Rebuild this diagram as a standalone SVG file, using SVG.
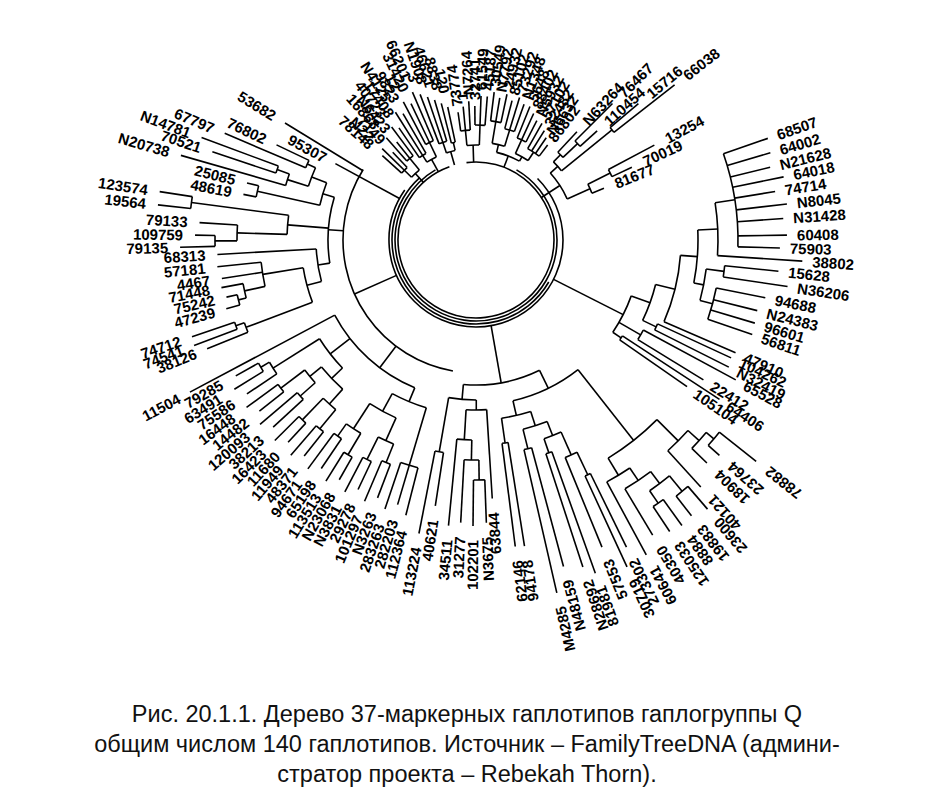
<svg xmlns="http://www.w3.org/2000/svg" width="934" height="804" viewBox="0 0 934 804">
<style>
line,circle{stroke:#000;stroke-width:1.6;fill:none}
text{font-family:"Liberation Sans",Arial,sans-serif;font-size:15px;font-weight:bold;fill:#000;dominant-baseline:central}
.r{text-anchor:start}.l{text-anchor:end}
.cap{font-size:23.5px;font-weight:normal;text-anchor:middle;dominant-baseline:auto;fill:#111}
</style>
<rect width="934" height="804" fill="#fff"/>
<g transform="translate(476,240)">
<g id="connectors">
<circle r="78" pathLength="360" stroke-dasharray="347 360" transform="rotate(-97)"/>
<circle r="81" pathLength="360" stroke-dasharray="300 360" transform="rotate(-60)"/>
<circle r="84" pathLength="360" stroke-dasharray="198 360" transform="rotate(30)"/>
<circle r="87" pathLength="360" stroke-dasharray="260 360" transform="rotate(-45)"/>
<line x1="262" x2="309" transform="rotate(-19.2)"/><line x1="262" x2="307" transform="rotate(-16.5)"/><line x1="262" x2="303" transform="rotate(-13.9)"/><line x1="262" x2="314" transform="rotate(-11.6)"/><line x1="262" x2="303" transform="rotate(-9.2)"/><line x1="262" x2="313" transform="rotate(-6.6)"/><line x1="262" x2="308" transform="rotate(-4)"/><line x1="262" x2="311" transform="rotate(-0.9)"/><line x1="262" x2="304" transform="rotate(1.5)"/>
<line x1="242" x2="327" transform="rotate(3.7)"/><line x1="250" x2="304" transform="rotate(5.9)"/><line x1="250" x2="315" transform="rotate(8.5)"/>
<line x1="245" x2="295" transform="rotate(11.3)"/><line x1="245" x2="290" transform="rotate(14.1)"/><line x1="245" x2="291" transform="rotate(16.6)"/><line x1="245" x2="292" transform="rotate(18.9)"/>
<line x1="205" x2="283" transform="rotate(23.5)"/><line x1="200" x2="281" transform="rotate(24.8)"/><line x1="200" x2="283" transform="rotate(26.7)"/>
<line x1="190" x2="295" transform="rotate(28.3)"/><line x1="190" x2="267" transform="rotate(31.6)"/><line x1="175" x2="291" transform="rotate(33.2)"/><line x1="175" x2="257" transform="rotate(34.8)"/>
<circle r="262" pathLength="360" stroke-dasharray="20.7 360" transform="rotate(-19.2)"/><line x1="242" x2="262" transform="rotate(-8.85)"/>
<circle r="242" pathLength="360" stroke-dasharray="12.55 360" transform="rotate(-8.85)"/><line x1="222" x2="242" transform="rotate(-2.6)"/>
<circle r="250" pathLength="360" stroke-dasharray="2.6 360" transform="rotate(5.9)"/><line x1="232" x2="250" transform="rotate(7.2)"/>
<circle r="245" pathLength="360" stroke-dasharray="7.6 360" transform="rotate(11.3)"/><line x1="232" x2="245" transform="rotate(15.1)"/>
<circle r="232" pathLength="360" stroke-dasharray="7.9 360" transform="rotate(7.2)"/><line x1="222" x2="232" transform="rotate(11.15)"/>
<circle r="222" pathLength="360" stroke-dasharray="13.75 360" transform="rotate(-2.6)"/><line x1="205" x2="222" transform="rotate(4.3)"/>
<circle r="205" pathLength="360" stroke-dasharray="19.2 360" transform="rotate(4.3)"/><line x1="185" x2="205" transform="rotate(13.9)"/>
<circle r="200" pathLength="360" stroke-dasharray="1.9 360" transform="rotate(24.8)"/><line x1="185" x2="200" transform="rotate(25.75)"/>
<circle r="185" pathLength="360" stroke-dasharray="11.85 360" transform="rotate(13.9)"/><line x1="165" x2="185" transform="rotate(19.8)"/>
<circle r="190" pathLength="360" stroke-dasharray="3.3 360" transform="rotate(28.3)"/><line x1="165" x2="190" transform="rotate(29.95)"/>
<circle r="175" pathLength="360" stroke-dasharray="1.6 360" transform="rotate(33.2)"/><line x1="165" x2="175" transform="rotate(34)"/>
<circle r="165" pathLength="360" stroke-dasharray="14.2 360" transform="rotate(19.8)"/><line x1="87" x2="165" transform="rotate(26.9)"/>
<line x1="120" x2="148" transform="rotate(-47)"/><line x1="140" x2="193" transform="rotate(-45)"/><line x1="140" x2="163" transform="rotate(-42)"/><line x1="175" x2="212" transform="rotate(-40)"/><line x1="175" x2="252" transform="rotate(-38)"/><line x1="150" x2="202" transform="rotate(-28)"/><line x1="150" x2="172" transform="rotate(-25)"/><line x1="125" x2="138" transform="rotate(-22)"/>
<circle r="140" pathLength="360" stroke-dasharray="3 360" transform="rotate(-45)"/><circle r="175" pathLength="360" stroke-dasharray="2 360" transform="rotate(-40)"/><circle r="150" pathLength="360" stroke-dasharray="3 360" transform="rotate(-28)"/>
<circle r="120" pathLength="360" stroke-dasharray="3.5 360" transform="rotate(-47)"/><line x1="120" x2="140" transform="rotate(-43.5)"/>
<circle r="110" pathLength="360" stroke-dasharray="6.25 360" transform="rotate(-45.25)"/><line x1="110" x2="120" transform="rotate(-45.25)"/><line x1="110" x2="175" transform="rotate(-39)"/>
<circle r="125" pathLength="360" stroke-dasharray="4.5 360" transform="rotate(-26.5)"/><line x1="125" x2="150" transform="rotate(-26.5)"/>
<circle r="100" pathLength="360" stroke-dasharray="17.75 360" transform="rotate(-42)"/><line x1="100" x2="110" transform="rotate(-42)"/><line x1="100" x2="125" transform="rotate(-24.25)"/><line x1="78" x2="100" transform="rotate(-33)"/>
<line x1="110" x2="129" transform="rotate(-98)"/><line x1="110" x2="134" transform="rotate(-95.5)"/><line x1="110" x2="139" transform="rotate(-93)"/><line x1="115" x2="134" transform="rotate(-90.5)"/><line x1="115" x2="144" transform="rotate(-88)"/><line x1="115" x2="144" transform="rotate(-85.5)"/><line x1="120" x2="149" transform="rotate(-83)"/><line x1="120" x2="144" transform="rotate(-80.5)"/><line x1="120" x2="149" transform="rotate(-78)"/><line x1="115" x2="144" transform="rotate(-75.5)"/><line x1="115" x2="149" transform="rotate(-73)"/><line x1="115" x2="144" transform="rotate(-70.5)"/><line x1="110" x2="144" transform="rotate(-68)"/><line x1="110" x2="139" transform="rotate(-65.5)"/><line x1="110" x2="134" transform="rotate(-63)"/><line x1="105" x2="134" transform="rotate(-60.5)"/><line x1="105" x2="129" transform="rotate(-58)"/><line x1="105" x2="124" transform="rotate(-55.5)"/><line x1="105" x2="119" transform="rotate(-53)"/>
<circle r="110" pathLength="360" stroke-dasharray="5 360" transform="rotate(-98)"/><circle r="115" pathLength="360" stroke-dasharray="5 360" transform="rotate(-90.5)"/><circle r="120" pathLength="360" stroke-dasharray="5 360" transform="rotate(-83)"/><circle r="115" pathLength="360" stroke-dasharray="5 360" transform="rotate(-75.5)"/><circle r="110" pathLength="360" stroke-dasharray="5 360" transform="rotate(-68)"/><circle r="105" pathLength="360" stroke-dasharray="7.5 360" transform="rotate(-60.5)"/>
<line x1="95" x2="110" transform="rotate(-95.5)"/><line x1="95" x2="115" transform="rotate(-88)"/><circle r="95" pathLength="360" stroke-dasharray="7.5 360" transform="rotate(-95.5)"/><line x1="78" x2="95" transform="rotate(-91.75)"/>
<line x1="98" x2="120" transform="rotate(-80.5)"/><line x1="98" x2="115" transform="rotate(-73)"/><circle r="98" pathLength="360" stroke-dasharray="7.5 360" transform="rotate(-80.5)"/><line x1="90" x2="98" transform="rotate(-76.75)"/>
<line x1="95" x2="110" transform="rotate(-65.5)"/><line x1="95" x2="105" transform="rotate(-56.75)"/><circle r="95" pathLength="360" stroke-dasharray="8.75 360" transform="rotate(-65.5)"/><line x1="90" x2="95" transform="rotate(-61.1)"/>
<circle r="90" pathLength="360" stroke-dasharray="15.65 360" transform="rotate(-76.75)"/><line x1="78" x2="90" transform="rotate(-69)"/>
<line x1="100" x2="126" transform="rotate(222)"/><line x1="100" x2="131" transform="rotate(224.25)"/><line x1="100" x2="121" transform="rotate(226.5)"/><line x1="105" x2="136" transform="rotate(228.75)"/><line x1="105" x2="126" transform="rotate(231)"/><line x1="105" x2="141" transform="rotate(233.25)"/><line x1="100" x2="136" transform="rotate(235.5)"/><line x1="100" x2="151" transform="rotate(237.75)"/><line x1="100" x2="146" transform="rotate(240)"/><line x1="108" x2="156" transform="rotate(242.25)"/><line x1="108" x2="151" transform="rotate(244.5)"/><line x1="108" x2="161" transform="rotate(246.75)"/><line x1="103" x2="156" transform="rotate(249)"/><line x1="103" x2="151" transform="rotate(251.25)"/><line x1="103" x2="146" transform="rotate(253.5)"/><line x1="100" x2="141" transform="rotate(255.75)"/><line x1="100" x2="136" transform="rotate(258)"/>
<circle r="100" pathLength="360" stroke-dasharray="4.5 360" transform="rotate(222)"/><circle r="105" pathLength="360" stroke-dasharray="4.5 360" transform="rotate(228.75)"/><circle r="100" pathLength="360" stroke-dasharray="4.5 360" transform="rotate(235.5)"/><circle r="108" pathLength="360" stroke-dasharray="4.5 360" transform="rotate(242.25)"/><circle r="103" pathLength="360" stroke-dasharray="4.5 360" transform="rotate(249)"/><circle r="100" pathLength="360" stroke-dasharray="2.25 360" transform="rotate(255.75)"/>
<line x1="90" x2="100" transform="rotate(224.25)"/><line x1="90" x2="105" transform="rotate(231)"/><circle r="90" pathLength="360" stroke-dasharray="6.75 360" transform="rotate(224.25)"/><line x1="78" x2="90" transform="rotate(227.6)"/>
<line x1="92" x2="100" transform="rotate(237.75)"/><line x1="92" x2="108" transform="rotate(244.5)"/><circle r="92" pathLength="360" stroke-dasharray="6.75 360" transform="rotate(237.75)"/><line x1="78" x2="92" transform="rotate(241.1)"/>
<line x1="92" x2="103" transform="rotate(251.25)"/><line x1="92" x2="100" transform="rotate(256.9)"/><circle r="92" pathLength="360" stroke-dasharray="5.65 360" transform="rotate(251.25)"/><line x1="78" x2="92" transform="rotate(254)"/>
<line x1="160" x2="324" transform="rotate(152)"/><line x1="246" x2="290" transform="rotate(158)"/><line x1="255" x2="301" transform="rotate(159.5)"/><line x1="255" x2="300" transform="rotate(161.2)"/><line x1="245" x2="259" transform="rotate(164.6)"/><line x1="245" x2="256" transform="rotate(167.1)"/><line x1="237" x2="259" transform="rotate(169.4)"/><line x1="216" x2="257" transform="rotate(171.4)"/><line x1="216" x2="260" transform="rotate(174.1)"/><line x1="160" x2="259" transform="rotate(176.8)"/><line x1="261" x2="296" transform="rotate(178.6)"/><line x1="261" x2="281" transform="rotate(181)"/><line x1="239" x2="277" transform="rotate(183.6)"/><line x1="287" x2="320" transform="rotate(186.3)"/><line x1="287" x2="320" transform="rotate(188.7)"/><line x1="224" x2="237" transform="rotate(191.1)"/><line x1="224" x2="236" transform="rotate(194)"/><line x1="198" x2="307" transform="rotate(196)"/><line x1="211" x2="278" transform="rotate(198.5)"/><line x1="211" x2="293" transform="rotate(200.5)"/><line x1="185" x2="273" transform="rotate(203)"/><line x1="185" x2="221" transform="rotate(205.5)"/><line x1="133" x2="224" transform="rotate(211.5)"/><line x1="87" x2="160" transform="rotate(208.5)"/>
<circle r="255" pathLength="360" stroke-dasharray="1.7 360" transform="rotate(159.5)"/><line x1="246" x2="255" transform="rotate(160.35)"/><circle r="246" pathLength="360" stroke-dasharray="2.35 360" transform="rotate(158)"/><line x1="175" x2="246" transform="rotate(159.2)"/>
<circle r="245" pathLength="360" stroke-dasharray="2.5 360" transform="rotate(164.6)"/><line x1="237" x2="245" transform="rotate(165.85)"/><circle r="237" pathLength="360" stroke-dasharray="3.55 360" transform="rotate(165.85)"/><line x1="216" x2="237" transform="rotate(167.6)"/><circle r="216" pathLength="360" stroke-dasharray="6.5 360" transform="rotate(167.6)"/><line x1="175" x2="216" transform="rotate(170.85)"/>
<circle r="175" pathLength="360" stroke-dasharray="11.65 360" transform="rotate(159.2)"/><line x1="160" x2="175" transform="rotate(165)"/><circle r="160" pathLength="360" stroke-dasharray="11.8 360" transform="rotate(165)"/><line x1="148" x2="160" transform="rotate(171)"/>
<circle r="261" pathLength="360" stroke-dasharray="2.4 360" transform="rotate(178.6)"/><circle r="239" pathLength="360" stroke-dasharray="3.8 360" transform="rotate(179.8)"/><line x1="239" x2="261" transform="rotate(179.8)"/><circle r="287" pathLength="360" stroke-dasharray="2.4 360" transform="rotate(186.3)"/><circle r="189" pathLength="360" stroke-dasharray="5.8 360" transform="rotate(181.7)"/><line x1="189" x2="239" transform="rotate(181.7)"/><line x1="189" x2="287" transform="rotate(187.5)"/>
<circle r="224" pathLength="360" stroke-dasharray="2.9 360" transform="rotate(191.1)"/><circle r="211" pathLength="360" stroke-dasharray="2 360" transform="rotate(198.5)"/><circle r="198" pathLength="360" stroke-dasharray="3.5 360" transform="rotate(196)"/><line x1="198" x2="211" transform="rotate(199.5)"/><circle r="185" pathLength="360" stroke-dasharray="2.5 360" transform="rotate(203)"/><circle r="176" pathLength="360" stroke-dasharray="6.5 360" transform="rotate(197.75)"/><line x1="176" x2="198" transform="rotate(197.75)"/><line x1="176" x2="185" transform="rotate(204.25)"/>
<circle r="160" pathLength="360" stroke-dasharray="8.45 360" transform="rotate(192.55)"/><line x1="160" x2="224" transform="rotate(192.55)"/><line x1="160" x2="176" transform="rotate(201)"/>
<circle r="148" pathLength="360" stroke-dasharray="25.8 360" transform="rotate(171)"/><line x1="148" x2="189" transform="rotate(184.6)"/><line x1="148" x2="160" transform="rotate(196.8)"/><line x1="133" x2="148" transform="rotate(184)"/>
<circle r="133" pathLength="360" stroke-dasharray="112 360" transform="rotate(100)"/><line x1="87" x2="133" transform="rotate(156)"/>
<line x1="250" x2="276" transform="rotate(150.5)"/><line x1="250" x2="284" transform="rotate(148.3)"/><line x1="240" x2="276" transform="rotate(146.1)"/><line x1="245" x2="284" transform="rotate(143.9)"/><line x1="245" x2="276" transform="rotate(141.7)"/><line x1="235" x2="284" transform="rotate(139.5)"/><line x1="235" x2="276" transform="rotate(137.3)"/><line x1="250" x2="284" transform="rotate(135.1)"/><line x1="250" x2="276" transform="rotate(132.9)"/><line x1="245" x2="284" transform="rotate(130.7)"/><line x1="245" x2="276" transform="rotate(128.5)"/><line x1="240" x2="284" transform="rotate(126.3)"/><line x1="240" x2="276" transform="rotate(124.1)"/><line x1="250" x2="284" transform="rotate(121.9)"/><line x1="250" x2="276" transform="rotate(119.7)"/><line x1="245" x2="284" transform="rotate(117.5)"/><line x1="245" x2="276" transform="rotate(115.3)"/><line x1="240" x2="284" transform="rotate(113.1)"/><line x1="240" x2="276" transform="rotate(110.9)"/><line x1="235" x2="284" transform="rotate(108.7)"/><line x1="235" x2="276" transform="rotate(106.5)"/><line x1="235" x2="284" transform="rotate(104.3)"/>
<circle r="250" pathLength="360" stroke-dasharray="2.2 360" transform="rotate(148.3)"/><line x1="240" x2="250" transform="rotate(149.4)"/><circle r="240" pathLength="360" stroke-dasharray="3.3 360" transform="rotate(146.1)"/><line x1="185" x2="240" transform="rotate(147.75)"/>
<circle r="245" pathLength="360" stroke-dasharray="2.2 360" transform="rotate(141.7)"/><circle r="235" pathLength="360" stroke-dasharray="2.2 360" transform="rotate(137.3)"/><line x1="215" x2="245" transform="rotate(142.8)"/><line x1="215" x2="235" transform="rotate(138.4)"/><circle r="215" pathLength="360" stroke-dasharray="4.4 360" transform="rotate(138.4)"/><line x1="200" x2="215" transform="rotate(140.6)"/>
<circle r="250" pathLength="360" stroke-dasharray="2.2 360" transform="rotate(132.9)"/><circle r="245" pathLength="360" stroke-dasharray="2.2 360" transform="rotate(128.5)"/><line x1="220" x2="250" transform="rotate(134)"/><line x1="220" x2="245" transform="rotate(129.6)"/><circle r="220" pathLength="360" stroke-dasharray="4.4 360" transform="rotate(129.6)"/><line x1="200" x2="220" transform="rotate(131.8)"/>
<circle r="200" pathLength="360" stroke-dasharray="8.8 360" transform="rotate(131.8)"/><line x1="185" x2="200" transform="rotate(136.2)"/><circle r="185" pathLength="360" stroke-dasharray="11.55 360" transform="rotate(136.2)"/><line x1="160" x2="185" transform="rotate(142)"/>
<circle r="240" pathLength="360" stroke-dasharray="2.2 360" transform="rotate(124.1)"/><circle r="250" pathLength="360" stroke-dasharray="2.2 360" transform="rotate(119.7)"/><line x1="225" x2="240" transform="rotate(125.2)"/><line x1="225" x2="250" transform="rotate(120.8)"/><circle r="225" pathLength="360" stroke-dasharray="4.4 360" transform="rotate(120.8)"/><line x1="195" x2="225" transform="rotate(123)"/>
<circle r="245" pathLength="360" stroke-dasharray="2.2 360" transform="rotate(115.3)"/><circle r="240" pathLength="360" stroke-dasharray="2.2 360" transform="rotate(110.9)"/><line x1="220" x2="245" transform="rotate(116.4)"/><line x1="220" x2="240" transform="rotate(112)"/><circle r="220" pathLength="360" stroke-dasharray="4.4 360" transform="rotate(112)"/><line x1="195" x2="220" transform="rotate(114.2)"/>
<circle r="195" pathLength="360" stroke-dasharray="8.8 360" transform="rotate(114.2)"/><line x1="175" x2="195" transform="rotate(118.6)"/>
<circle r="235" pathLength="360" stroke-dasharray="4.4 360" transform="rotate(104.3)"/><line x1="175" x2="235" transform="rotate(106.5)"/>
<circle r="175" pathLength="360" stroke-dasharray="12.1 360" transform="rotate(106.5)"/><line x1="160" x2="175" transform="rotate(112.5)"/>
<circle r="160" pathLength="360" stroke-dasharray="39.5 360" transform="rotate(112.5)"/><line x1="133" x2="160" transform="rotate(127)"/>
<line x1="215" x2="299" transform="rotate(101)"/><line x1="215" x2="269" transform="rotate(98.7)"/><line x1="200" x2="287" transform="rotate(95.5)"/><line x1="220" x2="283" transform="rotate(93.1)"/><line x1="240" x2="286" transform="rotate(90.6)"/><line x1="240" x2="283" transform="rotate(87.9)"/><line x1="170" x2="259" transform="rotate(86.4)"/><line x1="205" x2="309" transform="rotate(82.7)"/><line x1="205" x2="310" transform="rotate(81)"/><line x1="215" x2="362" transform="rotate(77.1)"/><line x1="215" x2="338" transform="rotate(75)"/><line x1="225" x2="344" transform="rotate(71.9)"/><line x1="225" x2="354" transform="rotate(70.3)"/><line x1="235" x2="332" transform="rotate(67.7)"/><line x1="260" x2="360" transform="rotate(65.2)"/><line x1="260" x2="342" transform="rotate(63.9)"/>
<circle r="215" pathLength="360" stroke-dasharray="2.3 360" transform="rotate(98.7)"/><line x1="160" x2="215" transform="rotate(99.85)"/>
<circle r="240" pathLength="360" stroke-dasharray="2.7 360" transform="rotate(87.9)"/><line x1="220" x2="240" transform="rotate(89.25)"/><circle r="220" pathLength="360" stroke-dasharray="3.85 360" transform="rotate(89.25)"/><line x1="200" x2="220" transform="rotate(91.2)"/><circle r="200" pathLength="360" stroke-dasharray="4.3 360" transform="rotate(91.2)"/><line x1="170" x2="200" transform="rotate(93.35)"/><circle r="170" pathLength="360" stroke-dasharray="6.95 360" transform="rotate(86.4)"/><line x1="160" x2="170" transform="rotate(89.9)"/><circle r="160" pathLength="360" stroke-dasharray="9.95 360" transform="rotate(89.9)"/><line x1="145" x2="160" transform="rotate(95)"/>
<circle r="205" pathLength="360" stroke-dasharray="1.7 360" transform="rotate(81)"/><circle r="215" pathLength="360" stroke-dasharray="2.1 360" transform="rotate(75)"/><circle r="225" pathLength="360" stroke-dasharray="1.6 360" transform="rotate(70.3)"/><circle r="260" pathLength="360" stroke-dasharray="1.3 360" transform="rotate(63.9)"/>
<line x1="235" x2="260" transform="rotate(64.55)"/><circle r="235" pathLength="360" stroke-dasharray="3.15 360" transform="rotate(64.55)"/><line x1="210" x2="235" transform="rotate(66.1)"/><line x1="210" x2="225" transform="rotate(71.1)"/><circle r="210" pathLength="360" stroke-dasharray="5 360" transform="rotate(66.1)"/><line x1="195" x2="210" transform="rotate(68.6)"/><line x1="195" x2="215" transform="rotate(76.05)"/><circle r="195" pathLength="360" stroke-dasharray="7.45 360" transform="rotate(68.6)"/><line x1="180" x2="195" transform="rotate(72.3)"/><line x1="180" x2="205" transform="rotate(81.85)"/><circle r="180" pathLength="360" stroke-dasharray="9.55 360" transform="rotate(72.3)"/><line x1="165" x2="180" transform="rotate(77.05)"/>
<line x1="275" x2="358" transform="rotate(61.6)"/><line x1="290" x2="344" transform="rotate(59.1)"/><line x1="320" x2="350" transform="rotate(56.4)"/><line x1="320" x2="352" transform="rotate(54.2)"/><line x1="325" x2="350" transform="rotate(52)"/><line x1="325" x2="355" transform="rotate(49.3)"/><line x1="285" x2="334" transform="rotate(47.7)"/><line x1="300" x2="321" transform="rotate(44)"/><line x1="310" x2="325" transform="rotate(41.5)"/><line x1="310" x2="357" transform="rotate(38.3)"/>
<circle r="325" pathLength="360" stroke-dasharray="2.7 360" transform="rotate(49.3)"/><circle r="320" pathLength="360" stroke-dasharray="2.2 360" transform="rotate(54.2)"/><line x1="305" x2="325" transform="rotate(50.65)"/><line x1="305" x2="320" transform="rotate(55.3)"/><circle r="305" pathLength="360" stroke-dasharray="4.65 360" transform="rotate(50.65)"/><line x1="290" x2="305" transform="rotate(52.98)"/><circle r="290" pathLength="360" stroke-dasharray="6.12 360" transform="rotate(52.98)"/><line x1="275" x2="290" transform="rotate(56)"/><circle r="275" pathLength="360" stroke-dasharray="5.6 360" transform="rotate(56)"/>
<circle r="310" pathLength="360" stroke-dasharray="3.2 360" transform="rotate(38.3)"/><line x1="300" x2="310" transform="rotate(39.9)"/><circle r="300" pathLength="360" stroke-dasharray="4.1 360" transform="rotate(39.9)"/><line x1="285" x2="300" transform="rotate(41.95)"/><circle r="285" pathLength="360" stroke-dasharray="5.75 360" transform="rotate(41.95)"/>
<circle r="255" pathLength="360" stroke-dasharray="14 360" transform="rotate(44.8)"/><line x1="255" x2="285" transform="rotate(44.8)"/><line x1="255" x2="275" transform="rotate(58.8)"/><line x1="165" x2="255" transform="rotate(51.8)"/>
<circle r="165" pathLength="360" stroke-dasharray="25.25 360" transform="rotate(51.8)"/><line x1="145" x2="165" transform="rotate(64)"/>
<circle r="145" pathLength="360" stroke-dasharray="31 360" transform="rotate(64)"/><line x1="87" x2="145" transform="rotate(80)"/>
</g>
<g id="nodes">
<g id="n68507"><text class="r" transform="rotate(-19.2) translate(319 0)">68507</text></g>
<g id="n64002"><text class="r" transform="rotate(-16.5) translate(317 0)">64002</text></g>
<g id="nN21628"><text class="r" transform="rotate(-13.9) translate(313 0)">N21628</text></g>
<g id="n64018"><text class="r" transform="rotate(-11.6) translate(324 0)">64018</text></g>
<g id="n74714"><text class="r" transform="rotate(-9.2) translate(313 0)">74714</text></g>
<g id="nN8045"><text class="r" transform="rotate(-6.6) translate(323 0)">N8045</text></g>
<g id="nN31428"><text class="r" transform="rotate(-4) translate(318 0)">N31428</text></g>
<g id="n60408"><text class="r" transform="rotate(-0.9) translate(321 0)">60408</text></g>
<g id="n75903"><text class="r" transform="rotate(1.5) translate(314 0)">75903</text></g>
<g id="n38802"><text class="r" transform="rotate(3.7) translate(337 0)">38802</text></g>
<g id="n15628"><text class="r" transform="rotate(5.9) translate(314 0)">15628</text></g>
<g id="nN36206"><text class="r" transform="rotate(8.5) translate(325 0)">N36206</text></g>
<g id="n94688"><text class="r" transform="rotate(11.3) translate(305 0)">94688</text></g>
<g id="nN24383"><text class="r" transform="rotate(14.1) translate(300 0)">N24383</text></g>
<g id="n96601"><text class="r" transform="rotate(16.6) translate(301 0)">96601</text></g>
<g id="n56811"><text class="r" transform="rotate(18.9) translate(302 0)">56811</text></g>
<g id="n47910"><text class="r" transform="rotate(23.5) translate(293 0)">47910</text></g>
<g id="n104262"><text class="r" transform="rotate(24.8) translate(291 0)">104262</text></g>
<g id="nN32419"><text class="r" transform="rotate(26.7) translate(293 0)">N32419</text></g>
<g id="n65528"><text class="r" transform="rotate(28.3) translate(305 0)">65528</text></g>
<g id="n22412"><text class="r" transform="rotate(31.6) translate(277 0)">22412</text></g>
<g id="n64406"><text class="r" transform="rotate(33.2) translate(301 0)">64406</text></g>
<g id="n105104"><text class="r" transform="rotate(34.8) translate(267 0)">105104</text></g>
<g id="nN63264"><text class="r" transform="rotate(-47) translate(160 0)">N63264</text></g>
<g id="n76467"><text class="r" transform="rotate(-45) translate(205 0)">76467</text></g>
<g id="n110454"><text class="r" transform="rotate(-42) translate(175 0)">110454</text></g>
<g id="n15716"><text class="r" transform="rotate(-40) translate(225 0)">15716</text></g>
<g id="n66038"><text class="r" transform="rotate(-38) translate(265 0)">66038</text></g>
<g id="n13254"><text class="r" transform="rotate(-28) translate(215 0)">13254</text></g>
<g id="n70019"><text class="r" transform="rotate(-25) translate(185 0)">70019</text></g>
<g id="n81677"><text class="r" transform="rotate(-22) translate(150 0)">81677</text></g>
<g id="n73774"><text class="r" transform="rotate(-98) translate(135 0)">73774</text></g>
<g id="n1"><text class="r" transform="rotate(-95.5) translate(140 0)">1</text></g>
<g id="nN7264"><text class="r" transform="rotate(-93) translate(145 0)">N7264</text></g>
<g id="n32741"><text class="r" transform="rotate(-90.5) translate(140 0)">32741</text></g>
<g id="n61549"><text class="r" transform="rotate(-88) translate(150 0)">61549</text></g>
<g id="n45187"><text class="r" transform="rotate(-85.5) translate(150 0)">45187</text></g>
<g id="n30549"><text class="r" transform="rotate(-83) translate(155 0)">30549</text></g>
<g id="nN7792"><text class="r" transform="rotate(-80.5) translate(150 0)">N7792</text></g>
<g id="n24932"><text class="r" transform="rotate(-78) translate(155 0)">24932</text></g>
<g id="n85102"><text class="r" transform="rotate(-75.5) translate(150 0)">85102</text></g>
<g id="n73292"><text class="r" transform="rotate(-73) translate(155 0)">73292</text></g>
<g id="nN1348"><text class="r" transform="rotate(-70.5) translate(150 0)">N1348</text></g>
<g id="n5648"><text class="r" transform="rotate(-68) translate(150 0)">5648</text></g>
<g id="n88402"><text class="r" transform="rotate(-65.5) translate(145 0)">88402</text></g>
<g id="nN5932"><text class="r" transform="rotate(-63) translate(140 0)">N5932</text></g>
<g id="n57102"><text class="r" transform="rotate(-60.5) translate(140 0)">57102</text></g>
<g id="n32482"><text class="r" transform="rotate(-58) translate(135 0)">32482</text></g>
<g id="nN6632"><text class="r" transform="rotate(-55.5) translate(130 0)">N6632</text></g>
<g id="n86802"><text class="r" transform="rotate(-53) translate(125 0)">86802</text></g>
<g id="n78148"><text class="l" transform="rotate(222) translate(140 0) rotate(180)">78148</text></g>
<g id="nN22"><text class="l" transform="rotate(224.25) translate(145 0) rotate(180)">N22</text></g>
<g id="n7149"><text class="l" transform="rotate(226.5) translate(135 0) rotate(180)">7149</text></g>
<g id="n16868"><text class="l" transform="rotate(228.75) translate(150 0) rotate(180)">16868</text></g>
<g id="nN6423"><text class="l" transform="rotate(231) translate(140 0) rotate(180)">N6423</text></g>
<g id="n40723"><text class="l" transform="rotate(233.25) translate(155 0) rotate(180)">40723</text></g>
<g id="n17408"><text class="l" transform="rotate(235.5) translate(150 0) rotate(180)">17408</text></g>
<g id="nN4125"><text class="l" transform="rotate(237.75) translate(165 0) rotate(180)">N4125</text></g>
<g id="n9823"><text class="l" transform="rotate(240) translate(160 0) rotate(180)">9823</text></g>
<g id="n12"><text class="l" transform="rotate(242.25) translate(170 0) rotate(180)">12</text></g>
<g id="n31420"><text class="l" transform="rotate(244.5) translate(165 0) rotate(180)">31420</text></g>
<g id="n66201"><text class="l" transform="rotate(246.75) translate(175 0) rotate(180)">66201</text></g>
<g id="n3"><text class="l" transform="rotate(249) translate(170 0) rotate(180)">3</text></g>
<g id="nN1908"><text class="l" transform="rotate(251.25) translate(165 0) rotate(180)">N1908</text></g>
<g id="n46621"><text class="l" transform="rotate(253.5) translate(160 0) rotate(180)">46621</text></g>
<g id="n8838"><text class="l" transform="rotate(255.75) translate(155 0) rotate(180)">8838</text></g>
<g id="n120"><text class="l" transform="rotate(258) translate(150 0) rotate(180)">120</text></g>
<g id="n11504"><text class="l" transform="rotate(152) translate(336 0) rotate(180)">11504</text></g>
<g id="n38126"><text class="l" transform="rotate(158) translate(302 0) rotate(180)">38126</text></g>
<g id="n74541"><text class="l" transform="rotate(159.5) translate(313 0) rotate(180)">74541</text></g>
<g id="n74712"><text class="l" transform="rotate(161.2) translate(312 0) rotate(180)">74712</text></g>
<g id="n47239"><text class="l" transform="rotate(164.6) translate(271 0) rotate(180)">47239</text></g>
<g id="n75242"><text class="l" transform="rotate(167.1) translate(268 0) rotate(180)">75242</text></g>
<g id="n71448"><text class="l" transform="rotate(169.4) translate(271 0) rotate(180)">71448</text></g>
<g id="n4467"><text class="l" transform="rotate(171.4) translate(269 0) rotate(180)">4467</text></g>
<g id="n57181"><text class="l" transform="rotate(174.1) translate(272 0) rotate(180)">57181</text></g>
<g id="n68313"><text class="l" transform="rotate(176.8) translate(271 0) rotate(180)">68313</text></g>
<g id="n79135"><text class="l" transform="rotate(178.6) translate(308 0) rotate(180)">79135</text></g>
<g id="n109759"><text class="l" transform="rotate(181) translate(293 0) rotate(180)">109759</text></g>
<g id="n79133"><text class="l" transform="rotate(183.6) translate(289 0) rotate(180)">79133</text></g>
<g id="n19564"><text class="l" transform="rotate(186.3) translate(332 0) rotate(180)">19564</text></g>
<g id="n123574"><text class="l" transform="rotate(188.7) translate(332 0) rotate(180)">123574</text></g>
<g id="n48619"><text class="l" transform="rotate(191.1) translate(249 0) rotate(180)">48619</text></g>
<g id="n25085"><text class="l" transform="rotate(194) translate(248 0) rotate(180)">25085</text></g>
<g id="nN20738"><text class="l" transform="rotate(196) translate(319 0) rotate(180)">N20738</text></g>
<g id="n70521"><text class="l" transform="rotate(198.5) translate(290 0) rotate(180)">70521</text></g>
<g id="nN14781"><text class="l" transform="rotate(200.5) translate(305 0) rotate(180)">N14781</text></g>
<g id="n67797"><text class="l" transform="rotate(203) translate(285 0) rotate(180)">67797</text></g>
<g id="n76802"><text class="l" transform="rotate(205.5) translate(233 0) rotate(180)">76802</text></g>
<g id="n53682"><text class="l" transform="rotate(211.5) translate(236 0) rotate(180)">53682</text></g>
<g id="n95307"><text class="l" transform="rotate(208.5) translate(171 0) rotate(180)">95307</text></g>
<g id="n79285"><text class="l" transform="rotate(150.5) translate(292 0) rotate(180)">79285</text></g>
<g id="n63491"><text class="l" transform="rotate(148.3) translate(300 0) rotate(180)">63491</text></g>
<g id="n75586"><text class="l" transform="rotate(146.1) translate(292 0) rotate(180)">75586</text></g>
<g id="n16448"><text class="l" transform="rotate(143.9) translate(300 0) rotate(180)">16448</text></g>
<g id="n14482"><text class="l" transform="rotate(141.7) translate(292 0) rotate(180)">14482</text></g>
<g id="n120093"><text class="l" transform="rotate(139.5) translate(300 0) rotate(180)">120093</text></g>
<g id="n38213"><text class="l" transform="rotate(137.3) translate(292 0) rotate(180)">38213</text></g>
<g id="n16423"><text class="l" transform="rotate(135.1) translate(300 0) rotate(180)">16423</text></g>
<g id="n11680"><text class="l" transform="rotate(132.9) translate(292 0) rotate(180)">11680</text></g>
<g id="n11949"><text class="l" transform="rotate(130.7) translate(300 0) rotate(180)">11949</text></g>
<g id="n48371"><text class="l" transform="rotate(128.5) translate(292 0) rotate(180)">48371</text></g>
<g id="n94671"><text class="l" transform="rotate(126.3) translate(300 0) rotate(180)">94671</text></g>
<g id="n65198"><text class="l" transform="rotate(124.1) translate(292 0) rotate(180)">65198</text></g>
<g id="n113513"><text class="l" transform="rotate(121.9) translate(300 0) rotate(180)">113513</text></g>
<g id="nN23068"><text class="l" transform="rotate(119.7) translate(292 0) rotate(180)">N23068</text></g>
<g id="nN3831"><text class="l" transform="rotate(117.5) translate(300 0) rotate(180)">N3831</text></g>
<g id="n29278"><text class="l" transform="rotate(115.3) translate(292 0) rotate(180)">29278</text></g>
<g id="n101297"><text class="l" transform="rotate(113.1) translate(300 0) rotate(180)">101297</text></g>
<g id="nN3263"><text class="l" transform="rotate(110.9) translate(292 0) rotate(180)">N3263</text></g>
<g id="n283263"><text class="l" transform="rotate(108.7) translate(300 0) rotate(180)">283263</text></g>
<g id="n282203"><text class="l" transform="rotate(106.5) translate(292 0) rotate(180)">282203</text></g>
<g id="n112364"><text class="l" transform="rotate(104.3) translate(300 0) rotate(180)">112364</text></g>
<g id="n113224"><text class="l" transform="rotate(101) translate(313 0) rotate(180)">113224</text></g>
<g id="n40621"><text class="l" transform="rotate(98.7) translate(283 0) rotate(180)">40621</text></g>
<g id="n34511"><text class="l" transform="rotate(95.5) translate(301 0) rotate(180)">34511</text></g>
<g id="n31277"><text class="l" transform="rotate(93.1) translate(297 0) rotate(180)">31277</text></g>
<g id="n102201"><text class="l" transform="rotate(90.6) translate(300 0) rotate(180)">102201</text></g>
<g id="nN3675"><text class="l" transform="rotate(87.9) translate(297 0) rotate(180)">N3675</text></g>
<g id="n63844"><text class="l" transform="rotate(86.4) translate(273 0) rotate(180)">63844</text></g>
<g id="n62146"><text class="l" transform="rotate(82.7) translate(323 0) rotate(180)">62146</text></g>
<g id="n94178"><text class="l" transform="rotate(81) translate(324 0) rotate(180)">94178</text></g>
<g id="nM4285"><text class="l" transform="rotate(77.1) translate(376 0) rotate(180)">M4285</text></g>
<g id="nN48159"><text class="l" transform="rotate(75) translate(352 0) rotate(180)">N48159</text></g>
<g id="nN28692"><text class="l" transform="rotate(71.9) translate(358 0) rotate(180)">N28692</text></g>
<g id="n81981"><text class="l" transform="rotate(70.3) translate(368 0) rotate(180)">81981</text></g>
<g id="n57553"><text class="l" transform="rotate(67.7) translate(346 0) rotate(180)">57553</text></g>
<g id="n30719"><text class="l" transform="rotate(65.2) translate(374 0) rotate(180)">30719</text></g>
<g id="n273302"><text class="l" transform="rotate(63.9) translate(356 0) rotate(180)">273302</text></g>
<g id="n60641"><text class="l" transform="rotate(61.6) translate(372 0) rotate(180)">60641</text></g>
<g id="n40350"><text class="l" transform="rotate(59.1) translate(358 0) rotate(180)">40350</text></g>
<g id="n125033"><text class="l" transform="rotate(56.4) translate(364 0) rotate(180)">125033</text></g>
<g id="n8884"><text class="l" transform="rotate(54.2) translate(366 0) rotate(180)">8884</text></g>
<g id="n19883"><text class="l" transform="rotate(52) translate(364 0) rotate(180)">19883</text></g>
<g id="n23600"><text class="l" transform="rotate(49.3) translate(369 0) rotate(180)">23600</text></g>
<g id="n40121"><text class="l" transform="rotate(47.7) translate(348 0) rotate(180)">40121</text></g>
<g id="n18904"><text class="l" transform="rotate(44) translate(335 0) rotate(180)">18904</text></g>
<g id="n23764"><text class="l" transform="rotate(41.5) translate(339 0) rotate(180)">23764</text></g>
<g id="n78882"><text class="l" transform="rotate(38.3) translate(371 0) rotate(180)">78882</text></g>
</g>
</g>
<g id="caption">
<text class="cap" x="467" y="722">Рис. 20.1.1. Дерево 37-маркерных гаплотипов гаплогруппы Q</text>
<text class="cap" x="467" y="752">общим числом 140 гаплотипов. Источник – FamilyTreeDNA (админи-</text>
<text class="cap" x="467" y="782">стратор проекта – Rebekah Thorn).</text>
</g>
</svg>
